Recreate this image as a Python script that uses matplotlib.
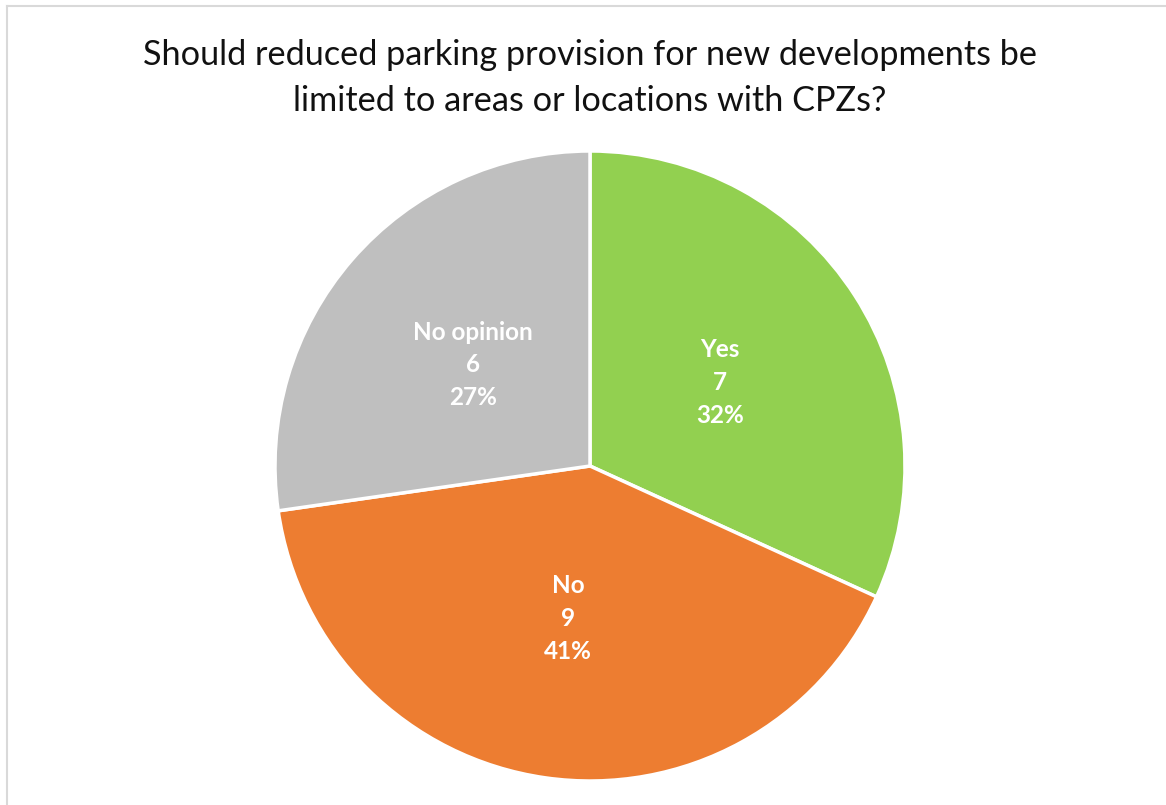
import matplotlib.pyplot as plt
from matplotlib.lines import Line2D

# survey answers
labels = ["Yes", "No", "No opinion"]
counts = [7, 9, 6]
colors = ["#92D050", "#ED7D31", "#BFBFBF"]
title = "Should reduced parking provision for new developments be\nlimited to areas or locations with CPZs?"

W, H = 1166, 805
fig = plt.figure(figsize=(W / 100, H / 100), dpi=100)

# pie centre ~ (590, 466) px, radius ~315 px
r = 315
ax = fig.add_axes([(590 - r) / W, (H - 466 - r) / H, 2 * r / W, 2 * r / H])
total = sum(counts)
txt = [f"{l}\n{c}\n{round(c / total * 100)}%" for l, c in zip(labels, counts)]
wedges, texts = ax.pie(counts, colors=colors, startangle=90, counterclock=False,
                       labels=txt, labeldistance=0.49, radius=1,
                       wedgeprops=dict(edgecolor="white", linewidth=2.5),
                       textprops=dict(color="white", fontsize=17.5, fontweight="bold",
                                      family="Lato", ha="center", va="center",
                                      linespacing=1.52))
ax.set_xlim(-1, 1)
ax.set_ylim(-1, 1)
ax.set_aspect("equal")
ax.axis("off")

fig.text(590 / W, 1 - 78 / H, title, ha="center", va="center", fontsize=24.7,
         family="Lato", color="#111111", linespacing=1.55)

# chart area border (top and left only visible)
fig.add_artist(Line2D([6.5 / W, 1], [1 - 6.5 / H, 1 - 6.5 / H], color="#d9d9d9", lw=1.5))
fig.add_artist(Line2D([6.5 / W, 6.5 / W], [0, 1 - 6.5 / H], color="#d9d9d9", lw=1.5))

fig.savefig("out.png", dpi=100, facecolor="white")
